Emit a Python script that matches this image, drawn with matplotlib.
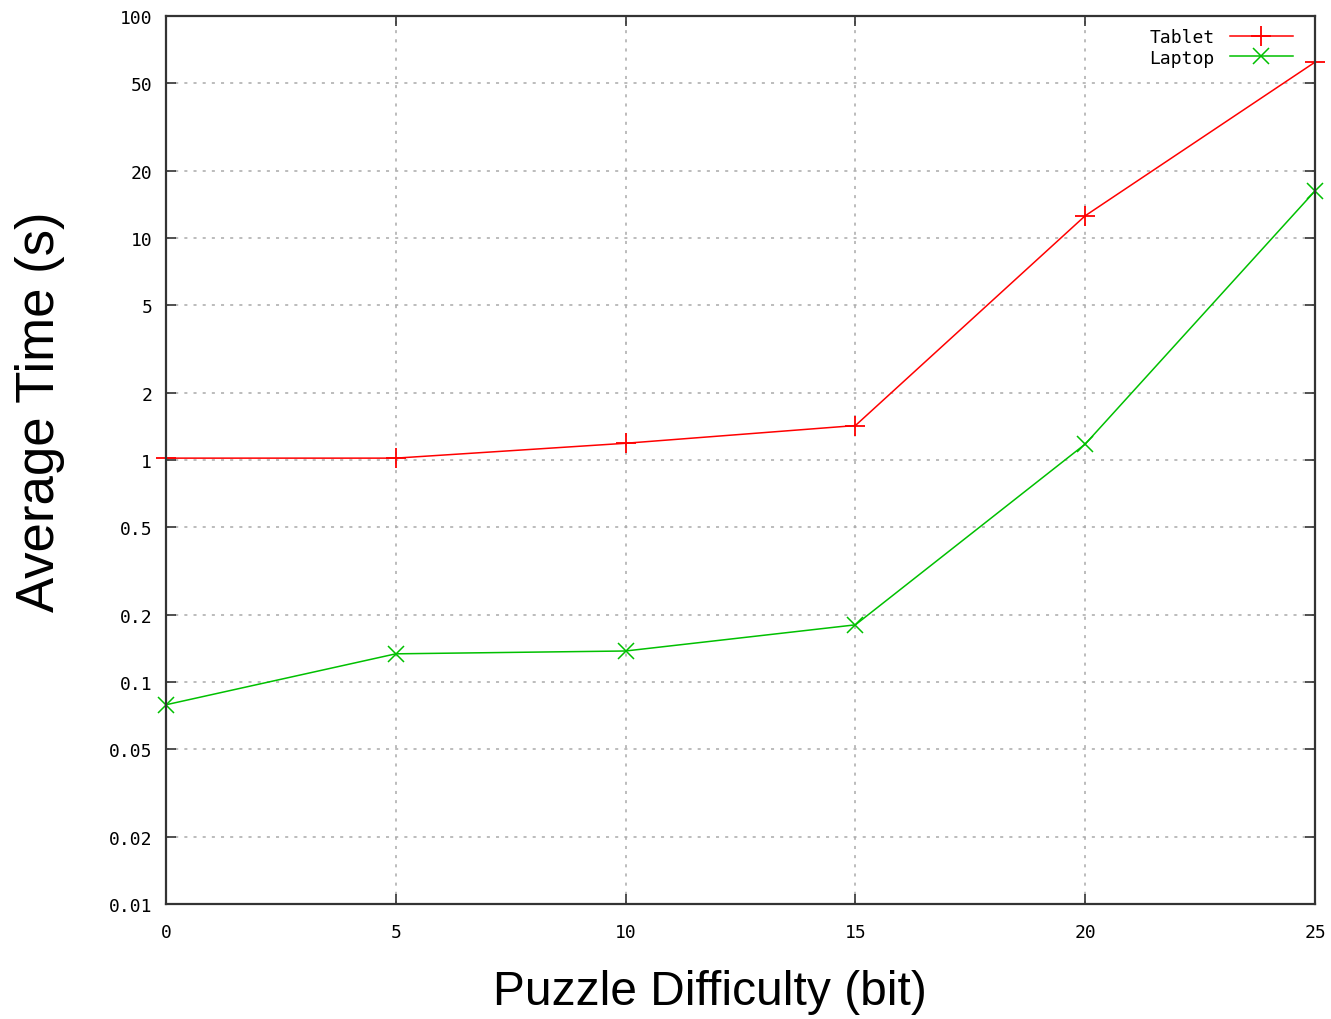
import numpy as np
import matplotlib.pyplot as plt
from matplotlib.ticker import FixedLocator, FixedFormatter, NullLocator

# Puzzle difficulty in bits and average solve time in seconds
difficulty = [0, 5, 10, 15, 20, 25]
tablet_time = [1.02, 1.02, 1.19, 1.43, 12.6, 62.0]
laptop_time = [0.079, 0.134, 0.138, 0.181, 1.18, 16.3]

y_ticks = [0.01, 0.02, 0.05, 0.1, 0.2, 0.5, 1, 2, 5, 10, 20, 50, 100]
y_labels = ['0.01', '0.02', '0.05', '0.1', '0.2', '0.5', '1', '2', '5', '10', '20', '50', '100']
x_ticks = [0, 5, 10, 15, 20, 25]

fig = plt.figure(figsize=(13.31, 10.20), dpi=100)
ax = fig.add_axes([0.1247, 0.1127, 0.8633, 0.8706])

ax.plot(difficulty, tablet_time, color='#ff0000', lw=1.1, marker='+',
        markersize=14, markeredgewidth=1.3, label='Tablet', clip_on=False)
ax.plot(difficulty, laptop_time, color='#00c000', lw=1.1, marker='x',
        markersize=12, markeredgewidth=1.1, label='Laptop', clip_on=False)

ax.set_yscale('log')
ax.set_xlim(0, 25)
ax.set_ylim(0.01, 100)
ax.yaxis.set_major_locator(FixedLocator(y_ticks))
ax.yaxis.set_major_formatter(FixedFormatter(y_labels))
ax.yaxis.set_minor_locator(NullLocator())
ax.set_xticks(x_ticks)

for lab in ax.get_xticklabels() + ax.get_yticklabels():
    lab.set_fontfamily('DejaVu Sans Mono')
    lab.set_fontsize(13)

ax.tick_params(direction='in', length=7, width=1.2, color='#333333',
               top=True, right=True)
ax.tick_params(axis='y', pad=10)
ax.tick_params(axis='x', pad=14)
ax.grid(True, color='#aaaaaa', linestyle=(0, (2, 4)), linewidth=1.1)
for s in ax.spines.values():
    s.set_color('#333333')
    s.set_linewidth(1.6)

ax.set_xlabel('Puzzle Difficulty (bit)', fontsize=34.5, family='Liberation Sans')
ax.set_ylabel('Average Time (s)', fontsize=38, family='Liberation Sans')
ax.xaxis.set_label_coords(0.4735, -0.073)
ax.yaxis.set_label_coords(-0.088, 0.556)

leg = ax.legend(loc='upper right', bbox_to_anchor=(0.995, 1.005), frameon=False,
                markerfirst=False, prop={'family': 'DejaVu Sans Mono', 'size': 13},
                handlelength=3.5, borderaxespad=0.5, labelspacing=0.15,
                handletextpad=0.85, borderpad=0.4)

fig.savefig('out.png', dpi=100)
